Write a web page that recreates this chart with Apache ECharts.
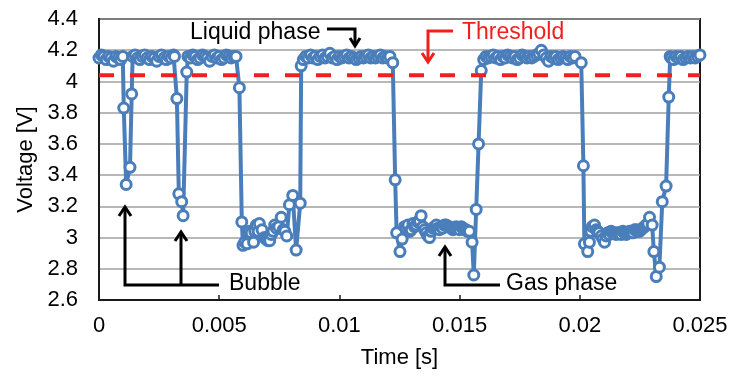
<!DOCTYPE html>
<html>
<head>
<meta charset="utf-8">
<script src="https://cdn.jsdelivr.net/npm/echarts@6/dist/echarts.min.js"></script>
<style>html,body{margin:0;padding:0;background:#fff;}#c{width:732px;height:379px;}</style>
</head>
<body>
<div id="c"></div>
<script>
// ---- data: [time (s), voltage (V)] ----
const liquid1 = [[0,4.15],[0.0001,4.17],[0.0002,4.16],[0.0003,4.14],[0.0004,4.16],[0.0005,4.15],[0.0006,4.13],[0.0007,4.16],[0.0008,4.15],[0.0009,4.14]];
const bubble1 = [[0.00099,4.16],[0.00103,3.83],[0.00113,3.34],[0.00129,3.45],[0.00136,3.92]];
const liquid2 = [[0.0014,4.16],[0.0015,4.17],[0.0016,4.15],[0.0017,4.14],[0.0018,4.16],[0.0019,4.17],[0.002,4.15],[0.0021,4.14],[0.0022,4.16],[0.0023,4.15],[0.0024,4.13],[0.0025,4.16],[0.0026,4.17],[0.0027,4.15],[0.0028,4.14],[0.0029,4.16],[0.003,4.15],[0.0031,4.17]];
const bubble2 = [[0.00314,4.16],[0.00324,3.89],[0.00332,3.28],[0.00344,3.23],[0.0035,3.14],[0.00365,4.06]];
const liquid3 = [[0.0037,4.16],[0.0038,4.15],[0.0039,4.17],[0.004,4.16],[0.0041,4.14],[0.0042,4.15],[0.0043,4.17],[0.0044,4.16],[0.0045,4.15],[0.0046,4.13],[0.0047,4.16],[0.0048,4.17],[0.0049,4.15],[0.005,4.16],[0.0051,4.14],[0.0052,4.15],[0.0053,4.17],[0.0054,4.16],[0.0055,4.15],[0.0056,4.16],[0.0057,4.16]];
const gas1 = [[0.00584,3.96],[0.00594,3.10],[0.00599,2.95],[0.00606,2.97],[0.00616,2.96],[0.00624,3.04],[0.00633,3.03],[0.00643,2.97],[0.00648,3.04],[0.00655,3.08],[0.00662,3.04],[0.00667,3.09],[0.00678,3.05],[0.00688,3.00],[0.00695,2.99],[0.00703,2.98],[0.0071,2.98],[0.00717,3.02],[0.00724,3.04],[0.00731,3.08],[0.00738,3.06],[0.00748,3.07],[0.00758,3.13],[0.00766,3.05],[0.00773,3.04],[0.00781,3.01],[0.00792,3.21],[0.00806,3.27],[0.0082,2.92],[0.00837,3.22],[0.00841,4.10]];
const liquid4 = [[0.0085,4.14],[0.0086,4.16],[0.0087,4.15],[0.0088,4.17],[0.0089,4.15],[0.009,4.16],[0.0091,4.14],[0.0092,4.16],[0.0093,4.17],[0.0094,4.15],[0.0095,4.16],[0.0096,4.18],[0.0097,4.15],[0.0098,4.16],[0.0099,4.14],[0.01,4.16],[0.0101,4.15],[0.0102,4.16],[0.0103,4.17],[0.0104,4.15],[0.0105,4.16],[0.0106,4.15],[0.0107,4.14],[0.0108,4.15],[0.0109,4.16],[0.011,4.15],[0.0111,4.16],[0.0112,4.17],[0.0113,4.15],[0.0114,4.16],[0.0115,4.15],[0.0116,4.16],[0.0117,4.17],[0.0118,4.15],[0.0119,4.16],[0.012,4.15],[0.0121,4.16]];
const gas2 = [[0.01222,4.12],[0.01232,3.37],[0.01238,3.03],[0.01252,2.91],[0.01261,2.99],[0.01271,3.07],[0.01278,3.06],[0.01285,3.08],[0.01292,3.04],[0.01299,3.05],[0.01306,3.09],[0.01312,3.07],[0.01319,3.08],[0.01326,3.10],[0.01333,3.11],[0.0134,3.14],[0.01347,3.07],[0.01354,3.05],[0.01361,3.03],[0.01368,3.01],[0.01375,3.00],[0.01382,3.04],[0.01389,3.06],[0.01396,3.07],[0.01403,3.08],[0.01409,3.06],[0.01416,3.05],[0.01423,3.07],[0.0143,3.06],[0.01437,3.08],[0.01444,3.08],[0.01451,3.07],[0.01458,3.07],[0.01465,3.06],[0.01472,3.05],[0.01479,3.06],[0.01486,3.07],[0.01493,3.06],[0.015,3.05],[0.01507,3.07],[0.01514,3.06],[0.0152,3.05],[0.01527,3.05],[0.01534,3.04],[0.01541,3.04],[0.01552,2.97],[0.01559,2.76],[0.01569,3.18],[0.01579,3.60],[0.0159,4.07]];
const liquid5 = [[0.016,4.14],[0.0161,4.16],[0.0162,4.15],[0.0163,4.16],[0.0164,4.17],[0.0165,4.15],[0.0166,4.16],[0.0167,4.14],[0.0168,4.16],[0.0169,4.15],[0.017,4.17],[0.0171,4.16],[0.0172,4.15],[0.0173,4.16],[0.0174,4.14],[0.0175,4.15],[0.0176,4.17],[0.0177,4.16],[0.0178,4.15],[0.0179,4.16],[0.018,4.15],[0.0181,4.16],[0.0182,4.17],[0.0183,4.18],[0.0184,4.20],[0.0185,4.17],[0.0186,4.15],[0.0187,4.13],[0.0188,4.16],[0.0189,4.15],[0.019,4.16],[0.0191,4.14],[0.0192,4.15],[0.0193,4.16],[0.0194,4.15],[0.0195,4.14],[0.0196,4.16],[0.0197,4.15],[0.0198,4.16]];
const gas3 = [[0.02006,4.12],[0.02015,3.46],[0.02019,2.96],[0.02033,2.91],[0.0204,2.97],[0.02046,3.04],[0.02052,3.07],[0.02061,3.08],[0.02068,3.05],[0.02075,3.04],[0.02079,3.03],[0.02089,3.01],[0.02096,2.99],[0.02103,2.97],[0.0211,3.01],[0.02116,3.03],[0.02123,3.02],[0.0213,3.04],[0.02137,3.03],[0.02144,3.03],[0.02151,3.02],[0.02158,3.03],[0.02165,3.03],[0.02172,3.02],[0.02179,3.04],[0.02186,3.03],[0.02193,3.02],[0.022,3.03],[0.02207,3.04],[0.02214,3.04],[0.02221,3.03],[0.02228,3.05],[0.02235,3.05],[0.02241,3.04],[0.02248,3.04],[0.02255,3.05],[0.02262,3.06],[0.02269,3.07],[0.02276,3.08],[0.02283,3.09],[0.0229,3.13],[0.02301,3.08],[0.02308,2.91],[0.02318,2.75],[0.02331,2.81],[0.02343,3.23],[0.02359,3.33],[0.0237,3.90],[0.02376,4.16]];
const liquid6 = [[0.0238,4.15],[0.0239,4.14],[0.024,4.16],[0.0241,4.15],[0.0242,4.16],[0.0243,4.14],[0.0244,4.15],[0.0245,4.16],[0.0246,4.15],[0.0247,4.16],[0.0248,4.15],[0.0249,4.16],[0.025,4.17]];
const thresholdLine = [[0,4.04],[0.025,4.04]];
const xTicks = [0, 0.005, 0.01, 0.015, 0.02, 0.025];
const yTicks = [2.6, 2.8, 3, 3.2, 3.4, 3.6, 3.8, 4, 4.2, 4.4];

const voltage = [].concat(liquid1, bubble1, liquid2, bubble2, liquid3, gas1, liquid4, gas2, liquid5, gas3, liquid6);

const FONT = '"Liberation Sans", Arial, sans-serif';
const BLUE = '#4a7ebb';
const RED = '#f0201e';

const chart = echarts.init(document.getElementById('c'), null, {renderer: 'canvas'});

function txt(text, x, y, color) {
  return {type: 'text', x: x, y: y, z: 100,
    style: {text: text, fill: color, font: '23px ' + FONT, fontSize: 23, fontFamily: FONT,
      textAlign: 'left', textVerticalAlign: 'middle', align: 'left', verticalAlign: 'middle'}};
}
function pl(points, color) {
  return {type: 'polyline', z: 100, shape: {points: points},
    style: {stroke: color, lineWidth: 3, fill: null, lineJoin: 'miter'}};
}

chart.setOption({
  animation: false,
  grid: {left: 99, right: 32, top: 19, bottom: 79, show: true, borderColor: '#1a1a1a', borderWidth: 2, backgroundColor: 'transparent'},
  xAxis: {
    type: 'value', min: xTicks[0], max: xTicks[xTicks.length - 1], interval: 0.005,
    name: 'Time [s]', nameLocation: 'middle', nameGap: 47,
    nameTextStyle: {fontSize: 22, fontFamily: FONT, color: '#000'},
    axisLine: {show: true, lineStyle: {color: '#1a1a1a', width: 2}},
    axisTick: {show: true, inside: true, length: 5, lineStyle: {color: '#1a1a1a', width: 1.5}},
    axisLabel: {fontSize: 22, fontFamily: FONT, color: '#000', margin: 15,
      formatter: v => String(+v.toFixed(3))},
    splitLine: {show: false}
  },
  yAxis: {
    type: 'value', min: yTicks[0], max: yTicks[yTicks.length - 1], interval: 0.2,
    name: 'Voltage [V]', nameLocation: 'middle', nameGap: 62, nameRotate: 90,
    nameTextStyle: {fontSize: 22, fontFamily: FONT, color: '#000'},
    axisLine: {show: true, lineStyle: {color: '#1a1a1a', width: 2}},
    axisTick: {show: false},
    axisLabel: {fontSize: 22, fontFamily: FONT, color: '#000', margin: 21,
      formatter: v => String(+v.toFixed(1))},
    splitLine: {show: true, lineStyle: {color: '#a0a0a0', width: 1.5}}
  },
  series: [
    {
      name: 'Voltage', type: 'line', data: voltage,
      symbol: 'circle', symbolSize: 10, showAllSymbol: true, clip: false,
      lineStyle: {color: BLUE, width: 4},
      itemStyle: {color: '#ffffff', borderColor: BLUE, borderWidth: 3},
      emphasis: {disabled: true}, z: 2
    },
    {
      name: 'Threshold', type: 'line', data: thresholdLine, symbol: 'none',
      lineStyle: {color: RED, width: 4, type: [15, 16]}, z: 3, silent: true
    }
  ],
  graphic: [
    txt('Liquid phase', 190, 33, '#000'),
    pl([[327, 29], [355, 29], [355, 45]], '#000'),
    pl([[350, 38], [355, 46], [360, 38]], '#000'),
    txt('Threshold', 462, 33, RED),
    pl([[453, 31], [428, 31], [428, 61]], RED),
    pl([[422, 53], [428, 62], [434, 53]], RED),
    txt('Bubble', 229, 284, '#000'),
    pl([[125, 207], [125, 285], [219, 285]], '#000'),
    pl([[181, 232], [181, 285]], '#000'),
    pl([[119, 216], [125, 207], [131, 216]], '#000'),
    pl([[175, 241], [181, 232], [187, 241]], '#000'),
    txt('Gas phase', 506, 284, '#000'),
    pl([[445, 247], [445, 285], [500, 285]], '#000'),
    pl([[439, 256], [445, 247], [451, 256]], '#000')
  ]
});
</script>
</body>
</html>
